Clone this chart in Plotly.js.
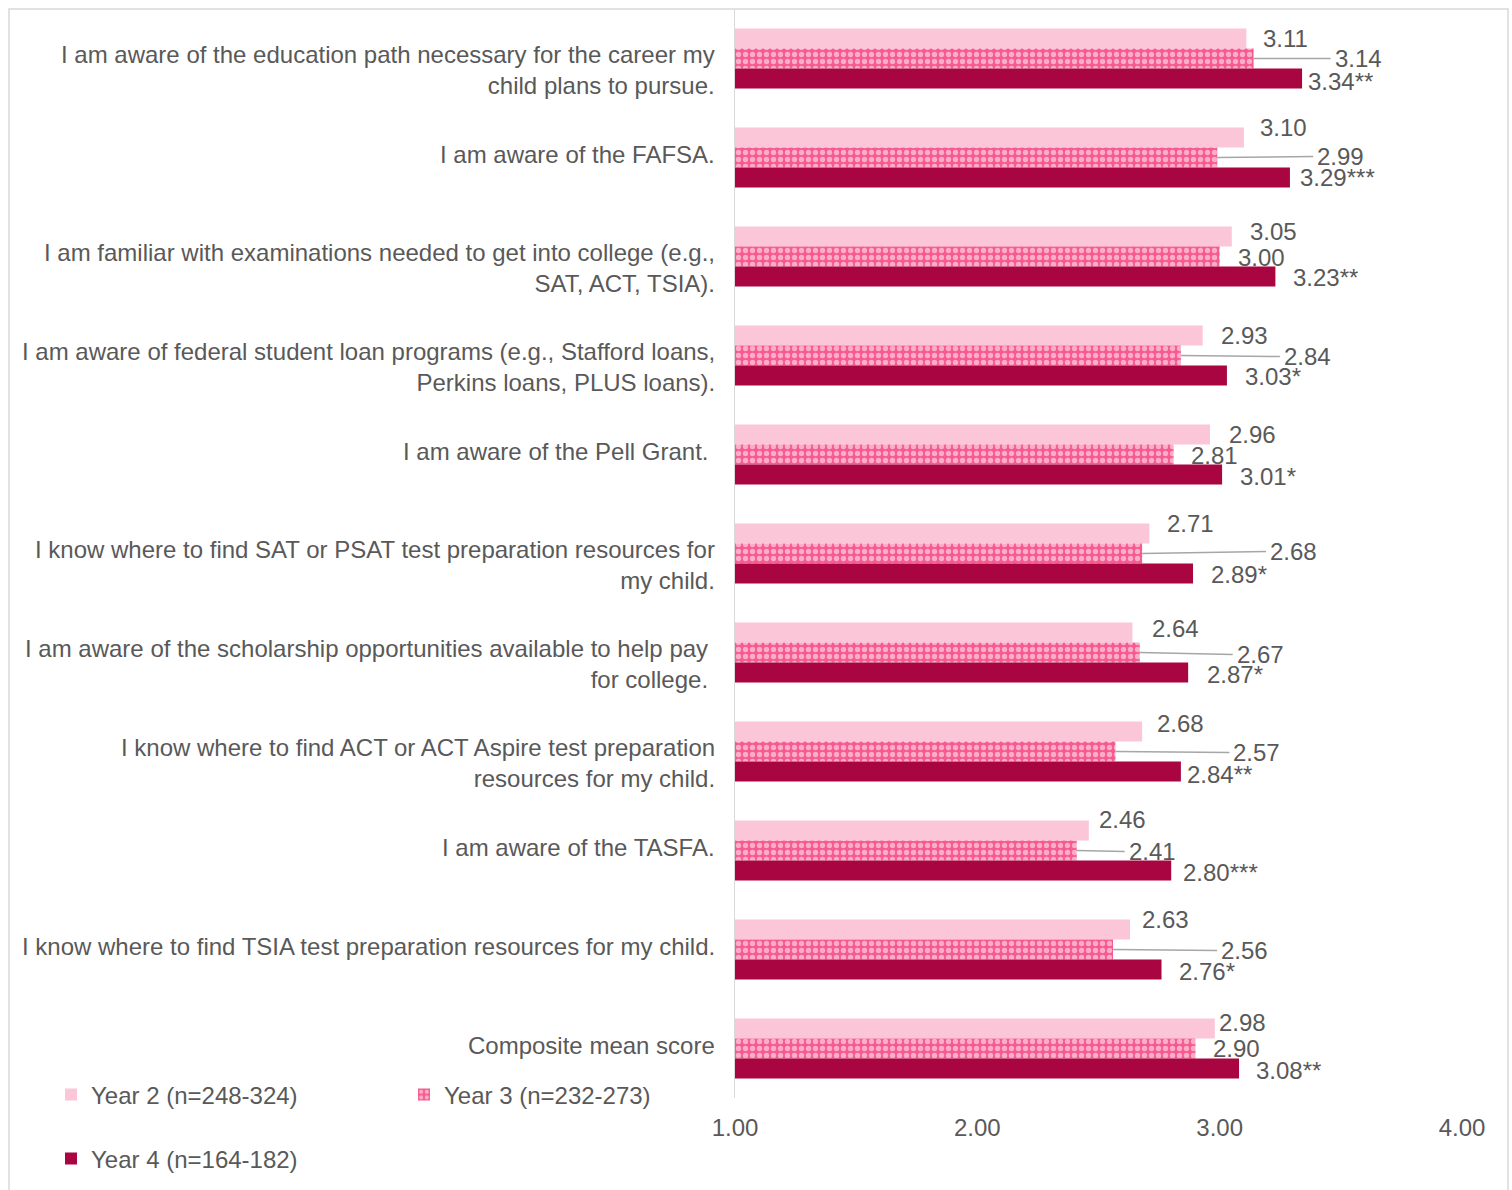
<!DOCTYPE html>
<html>
<head>
<meta charset="utf-8">
<script src="https://cdn.plot.ly/plotly-3.0.1.min.js"></script>
<style>
  html, body { margin: 0; padding: 0; background: #fff; }
  #chart { width: 1512px; height: 1190px; }
</style>
</head>
<body>
<div id="chart"></div>
<script>
// ---- data ----
var categories = [
  "I am aware of the education path necessary for the career my<br>child plans to pursue.",
  "I am aware of the FAFSA.",
  "I am familiar with examinations needed to get into college (e.g.,<br>SAT, ACT, TSIA).",
  "I am aware of federal student loan programs (e.g., Stafford loans,<br>Perkins loans, PLUS loans).",
  "I am aware of the Pell Grant.\u00a0",
  "I know where to find SAT or PSAT test preparation resources for<br>my child.",
  "I am aware of the scholarship opportunities available to help pay\u00a0<br>for college.\u00a0",
  "I know where to find ACT or ACT Aspire test preparation<br>resources for my child.",
  "I am aware of the TASFA.",
  "I know where to find TSIA test preparation resources for my child.",
  "Composite mean score"
];
var year2 = [3.11, 3.10, 3.05, 2.93, 2.96, 2.71, 2.64, 2.68, 2.46, 2.63, 2.98];
var year3 = [3.14, 2.99, 3.00, 2.84, 2.81, 2.68, 2.67, 2.57, 2.41, 2.56, 2.90];
var year4 = [3.34, 3.29, 3.23, 3.03, 3.01, 2.89, 2.87, 2.84, 2.80, 2.76, 3.08];
var year4Sig = ["**", "***", "**", "*", "*", "*", "*", "**", "***", "*", "**"];
var seriesNames = ["Year 2 (n=248-324)", "Year 3 (n=232-273)", "Year 4 (n=164-182)"];
var xTicks = [1, 2, 3, 4];

// ---- label placement (pixel nudges of the data labels) ----
var y2dx = [15, 14, 16, 16, 17, 16, 18, 13, 8, 10, 2];
var y2dy = [0, -10, -5, 0, 0, -10, -4, -8, -11, -10, -6];
var y3dx = [83, 102, 16, 105, 15, 130, 99, 120, 54, 110, 16];
var y3dy = [0, -1, 1, 1, 1, -2, 2, 1, 1, 1, 0];
var y4dx = [4, 8, 16, 16, 16, 16, 17, 4, 10, 15, 15];
var y4dy = [3, 0, 1, 1, 2, 1, 2, 3, 2, 2, 2];

var FONT = "Liberation Sans, Arial, sans-serif";
var TXT = "#595959";
var FS = 24;
var C2 = "#FBC6D8", C3 = "#F65A90", C4 = "#A80541";
var bargap = 0.395;
var w = (1 - bargap) / 3;

var traces = [
  { type: "bar", orientation: "h", name: seriesNames[0], y: categories, x: year2,
    marker: { color: C2 }, legend: "legend" },
  { type: "bar", orientation: "h", name: seriesNames[1], y: categories, x: year3,
    marker: { color: C3, pattern: { shape: ".", fgcolor: "#ffffff", fillmode: "overlay", size: 7, solidity: 0.45 } },
    legend: "legend" },
  { type: "bar", orientation: "h", name: seriesNames[2], y: categories, x: year4,
    marker: { color: C4 }, legend: "legend2" }
];
// bars start at the axis minimum 1.00
traces.forEach(function (t) {
  t.base = 1;
  t.x = t.x.map(function (v) { return v - 1; });
});

var annotations = [];
for (var i = 0; i < categories.length; i++) {
  var twoLines = categories[i].indexOf("<br>") >= 0;
  annotations.push({
    x: 0, xref: "paper", y: i, yref: "y", text: categories[i],
    showarrow: false, xanchor: "right", yanchor: "middle", align: "right",
    xshift: -18, yshift: twoLines ? -11 : 3,
    font: { family: FONT, size: FS, color: TXT }
  });
  annotations.push({
    x: year2[i], y: i - w, xref: "x", yref: "y", text: year2[i].toFixed(2),
    showarrow: false, xanchor: "left", yanchor: "middle",
    xshift: y2dx[i], yshift: -y2dy[i],
    font: { family: FONT, size: FS, color: TXT }
  });
  if (y3dx[i] > 30) {
    annotations.push({
      x: year3[i], y: i, xref: "x", yref: "y", text: year3[i].toFixed(2),
      showarrow: true, arrowhead: 0, arrowwidth: 1.5, arrowcolor: "#A6A6A6",
      standoff: 0, ax: y3dx[i] - 6, ay: y3dy[i], axref: "pixel", ayref: "pixel",
      xanchor: "left", yanchor: "middle", borderpad: 3,
      font: { family: FONT, size: FS, color: TXT }
    });
  } else {
    annotations.push({
      x: year3[i], y: i, xref: "x", yref: "y", text: year3[i].toFixed(2),
      showarrow: false, xanchor: "left", yanchor: "middle",
      xshift: y3dx[i], yshift: -y3dy[i],
      font: { family: FONT, size: FS, color: TXT }
    });
  }
  annotations.push({
    x: year4[i], y: i + w, xref: "x", yref: "y", text: year4[i].toFixed(2) + year4Sig[i],
    showarrow: false, xanchor: "left", yanchor: "middle",
    xshift: y4dx[i], yshift: -y4dy[i],
    font: { family: FONT, size: FS, color: TXT }
  });
}

var W = 1512, H = 1190, ml = 735, mr = 50, mt = 9, mb = 90;
var pw = W - ml - mr, ph = H - mt - mb;

var layout = {
  width: W, height: H,
  margin: { l: ml, r: mr, t: mt, b: mb, pad: 0 },
  paper_bgcolor: "#ffffff", plot_bgcolor: "#ffffff",
  font: { family: FONT, size: FS, color: TXT },
  barmode: "group", bargap: bargap, bargroupgap: 0,
  showlegend: true,
  xaxis: {
    range: [1, 4], tickvals: xTicks, tickformat: ".2f",
    showgrid: false, zeroline: false, showline: false, ticks: "",
    ticklabelstandoff: 13, fixedrange: true,
    tickfont: { family: FONT, size: FS, color: TXT }
  },
  yaxis: {
    type: "category", autorange: "reversed", showticklabels: false,
    showgrid: false, zeroline: false, showline: true, linecolor: "#D9D9D9", linewidth: 1.5,
    ticks: "", fixedrange: true
  },
  legend: {
    orientation: "h", x: (51 - ml) / pw, xanchor: "left", y: (mt + ph - 1097) / ph, yanchor: "middle",
    entrywidth: 308, entrywidthmode: "pixels", itemclick: false, itemdoubleclick: false,
    font: { family: FONT, size: FS, color: TXT }, bgcolor: "rgba(0,0,0,0)", borderwidth: 0
  },
  legend2: {
    orientation: "h", x: (51 - ml) / pw, xanchor: "left", y: (mt + ph - 1161) / ph, yanchor: "middle",
    itemclick: false, itemdoubleclick: false,
    font: { family: FONT, size: FS, color: TXT }, bgcolor: "rgba(0,0,0,0)", borderwidth: 0
  },
  annotations: annotations,
  shapes: [{
    type: "rect", xref: "paper", yref: "paper", layer: "below",
    x0: (9 - ml) / pw, x1: (1508 - ml) / pw,
    y0: (mt + ph - 1230) / ph, y1: (mt + ph - 9) / ph,
    line: { color: "#D9D9D9", width: 1.5 }, fillcolor: "rgba(0,0,0,0)"
  }]
};

Plotly.newPlot("chart", traces, layout, { displayModeBar: false, staticPlot: true });
</script>
</body>
</html>
